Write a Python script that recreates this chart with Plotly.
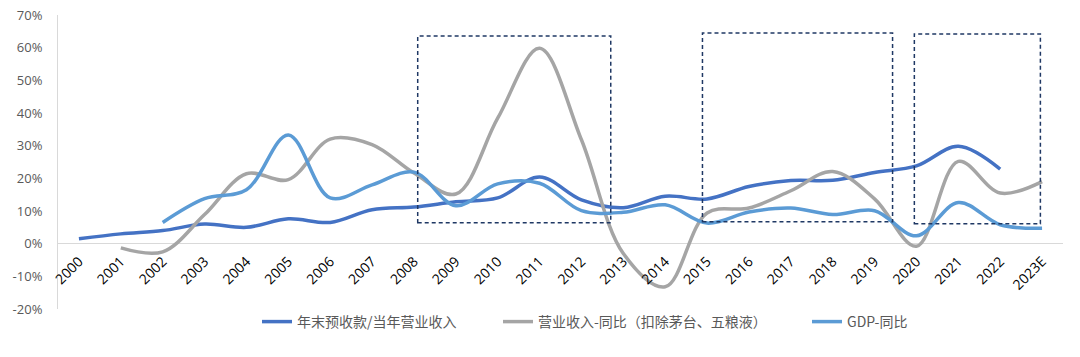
import plotly.graph_objects as go

years = ["2000", "2001", "2002", "2003", "2004", "2005", "2006", "2007", "2008", "2009",
         "2010", "2011", "2012", "2013", "2014", "2015", "2016", "2017", "2018", "2019",
         "2020", "2021", "2022", "2023E"]

advance_ratio = [1.5, 3.0, 4.0, 6.0, 5.0, 7.6, 6.5, 10.4, 11.2, 12.8,
                 14.0, 20.4, 13.4, 11.0, 14.5, 13.7, 17.5, 19.3, 19.4, 21.8,
                 23.8, 29.8, 22.8, None]

revenue_yoy = [None, -1.3, -2.5, 8.9, 21.4, 19.6, 32.0, 30.3, 21.6, 15.2,
               38.4, 59.8, 31.8, -3.0, -13.2, 9.4, 10.9, 16.2, 22.1, 13.7,
               -0.8, 25.2, 15.5, 19.0]

gdp_yoy = [None, None, 6.5, 13.8, 16.5, 33.3, 14.0, 18.0, 21.9, 11.6,
           18.3, 18.5, 10.1, 9.6, 11.9, 6.3, 9.7, 10.9, 8.9, 10.1,
           2.4, 12.6, 5.8, 4.7]

series_names = ["年末预收款/当年营业收入", "营业收入-同比（扣除茅台、五粮液）", "GDP-同比"]
series_colors = ["#4472C4", "#A5A5A5", "#5B9BD5"]

# highlight boxes: (x0 index, x1 index, y0 %, y1 %)
box_x0 = [8.09, 14.89, 19.95]
box_x1 = [12.70, 19.43, 22.96]
box_y0 = [6.4, 6.7, 6.1]
box_y1 = [63.6, 64.5, 64.2]

y_ticks = list(range(-20, 71, 10))

W, H = 1080, 357
legend_ids = ["legend", "legend2", "legend3"]
legend_left_px = [257, 498, 807]

fig = go.Figure()
for name, vals, col, lid in zip(series_names, [advance_ratio, revenue_yoy, gdp_yoy],
                                series_colors, legend_ids):
    fig.add_trace(go.Scatter(x=years, y=vals, name=name, mode="lines", legend=lid,
                             line=dict(color=col, width=3.5, shape="spline", smoothing=1.0)))

for x0, x1, y0, y1 in zip(box_x0, box_x1, box_y0, box_y1):
    fig.add_shape(type="rect", xref="x", yref="y", x0=x0, x1=x1, y0=y0, y1=y1,
                  line=dict(color="#1F3864", width=1.5, dash="4px,3px"), fillcolor="rgba(0,0,0,0)")

zero_frac = (0 - y_ticks[0]) / (y_ticks[-1] - y_ticks[0])

legend_style = dict(orientation="h", xref="container", xanchor="left", yref="container",
                    y=(H - 322) / H, yanchor="middle",
                    font=dict(family="Noto Sans CJK SC", size=14, color="#595959"),
                    bgcolor="rgba(0,0,0,0)")

fig.update_layout(
    width=W, height=H,
    margin=dict(l=58, r=17, t=15, b=48, autoexpand=False),
    plot_bgcolor="white", paper_bgcolor="white",
    font=dict(family="Open Sans, Noto Sans CJK SC", size=13, color="#595959"),
    xaxis=dict(type="category", anchor="free", position=zero_frac, automargin=False,
               tickangle=-45, showgrid=False, showline=False, zeroline=False,
               ticks="", ticklabelstandoff=6,
               tickfont=dict(color="#000000", size=14, family="Open Sans"),
               range=[-0.5, len(years) - 0.5]),
    yaxis=dict(range=[y_ticks[0], y_ticks[-1]], tickvals=y_ticks, automargin=False,
               ticktext=[f"{v}%" for v in y_ticks],
               showgrid=False, zeroline=True, zerolinecolor="#D9D9D9", zerolinewidth=1,
               showline=True, linecolor="#D9D9D9", linewidth=1, ticks="",
               ticklabelstandoff=12,
               tickfont=dict(color="#595959", size=13, family="Open Sans")),
    legend=dict(x=legend_left_px[0] / W, **legend_style),
    legend2=dict(x=legend_left_px[1] / W, **legend_style),
    legend3=dict(x=legend_left_px[2] / W, **legend_style),
    showlegend=True,
)

fig.write_html("out.html", config={"displayModeBar": False},
               post_script="document.body.style.margin='0';document.body.style.overflow='hidden';")
